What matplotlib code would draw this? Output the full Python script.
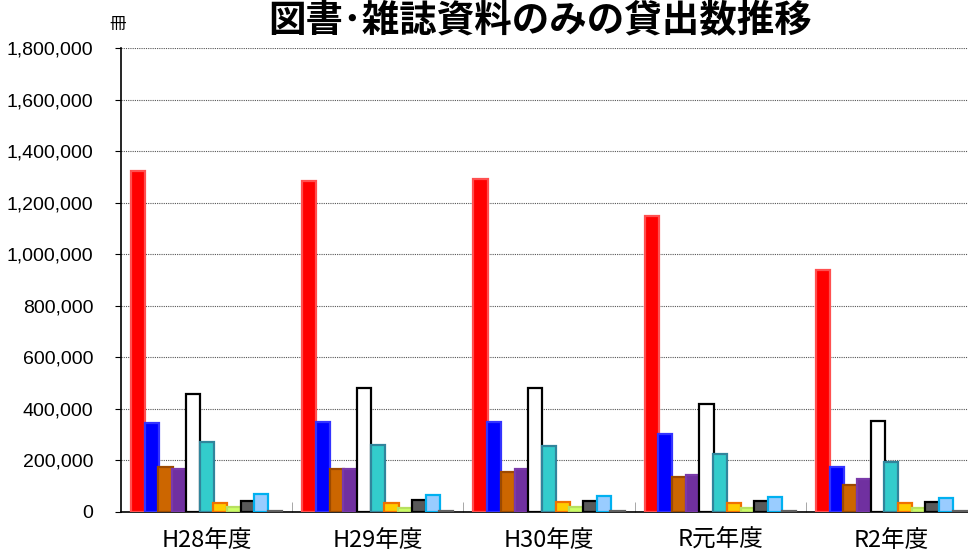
import numpy as np
import matplotlib.pyplot as plt
from matplotlib.ticker import FuncFormatter, FixedLocator

plt.rcParams['font.family'] = ['Noto Sans CJK JP', 'DejaVu Sans']

# Data
years = ['H28年度', 'H29年度', 'H30年度', 'R元年度', 'R2年度']

s01 = [1322000, 1285000, 1292000, 1148000, 939000]
s02 = [346000, 348000, 349000, 302000, 173000]
s03 = [173000, 166000, 155000, 135000, 103000]
s04 = [166000, 165000, 167000, 142000, 127000]
s05 = [457000, 481000, 481000, 419000, 353000]
s06 = [270000, 259000, 256000, 226000, 195000]
s07 = [36000, 36000, 37000, 34000, 34000]
s08 = [18000, 16000, 19000, 17000, 14000]
s09 = [44000, 45000, 44000, 43000, 38000]
s10 = [70000, 67000, 61000, 57000, 53000]
s11 = [2000, 2000, 2000, 2000, 2000]

series = [s01, s02, s03, s04, s05, s06, s07, s08, s09, s10, s11]

# (fill, edge) per series
styles = [
    ('#FF0000', '#FF5050'),
    ('#0000FF', '#3333FF'),
    ('#CC6600', '#9C4A00'),
    ('#7030A0', '#7A3AAA'),
    ('#FFFFFF', '#000000'),
    ('#33CCCC', '#31859C'),
    ('#FFCC00', '#F07000'),
    ('#CCFF66', '#B8E060'),
    ('#595959', '#000000'),
    ('#99CCFF', '#00B0F0'),
    ('#808080', '#606060'),
]

fig = plt.figure(figsize=(9.68, 5.55), dpi=100)
ax = fig.add_axes([121 / 968, 1 - 512 / 555, 856 / 968, 464 / 555])

x = np.arange(len(years))
w = 0.08
n = len(series)
for j, vals in enumerate(series):
    fc, ec = styles[j]
    ax.bar(x + (j - (n - 1) / 2) * w, vals, width=w * 1.03, color=fc,
           edgecolor=ec, linewidth=1.6, zorder=3)

ax.set_xlim(-0.5, len(years) - 0.5)
ax.set_ylim(0, 1800000)
ax.yaxis.set_major_locator(FixedLocator(np.arange(0, 1800001, 200000)))
ax.yaxis.set_major_formatter(FuncFormatter(lambda v, p: f'{int(v):,}'))
ax.grid(axis='y', color='#555555', linestyle=(0, (1, 1)), linewidth=0.8, zorder=0)

ax.set_xticks(x)
ax.set_xticklabels(years, fontsize=17)
ax.set_xticks(np.arange(0.5, len(years) - 0.5, 1), minor=True)
ax.tick_params(axis='x', which='major', length=0, pad=12)
ax.tick_params(axis='x', which='minor', direction='in', length=7, color='#999999')
ax.tick_params(axis='y', length=4, pad=16, labelsize=14)
for lab in ax.get_yticklabels():
    lab.set_family(['Liberation Sans', 'DejaVu Sans'])

for s in ['top', 'right']:
    ax.spines[s].set_visible(False)
ax.spines['left'].set_linewidth(1.2)
ax.spines['bottom'].set_linewidth(1.2)

fig.text(540 / 968, 1 - 1 / 555, '図書･雑誌資料のみの貸出数推移', fontsize=27,
         fontweight='bold', ha='center', va='top')
fig.text(118 / 968, 1 - 24 / 555, '冊', fontsize=12, ha='center', va='center')

fig.savefig('out.png', dpi=100)
